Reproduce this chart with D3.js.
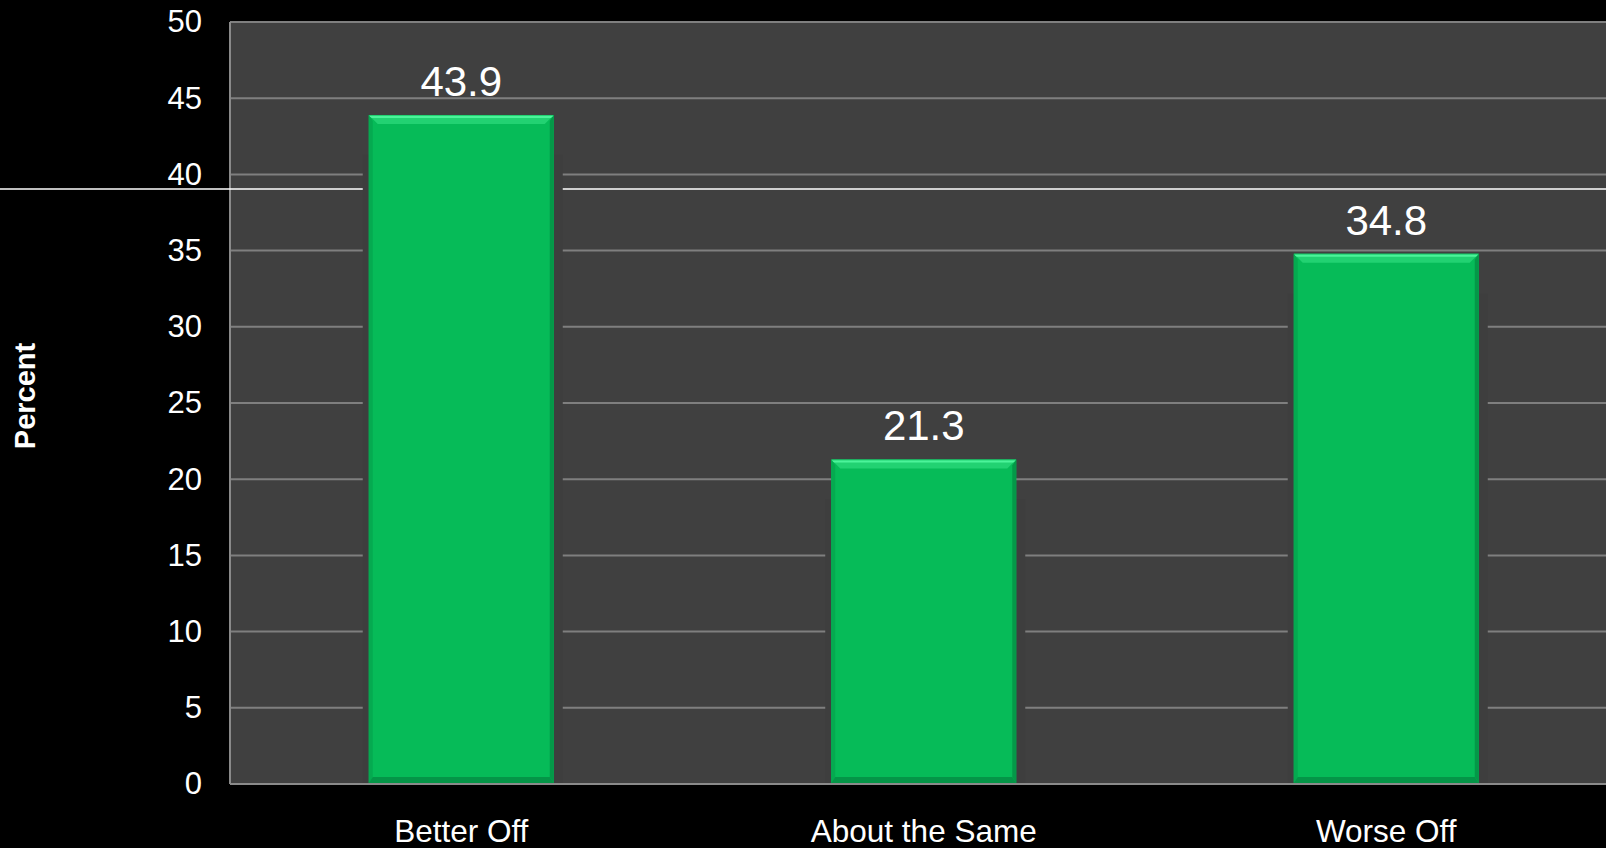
<!DOCTYPE html>
<html>
<head>
<meta charset="utf-8">
<script src="https://cdn.jsdelivr.net/npm/d3@7"></script>
<style>
  html, body { margin: 0; padding: 0; background: #000; }
  svg { display: block; }
  text { font-family: "Liberation Sans", Arial, sans-serif; fill: #fff; }
</style>
</head>
<body>
<svg id="chart" width="1606" height="848"></svg>
<script>
const categories = ["Better Off", "About the Same", "Worse Off"];
const values = [43.9, 21.3, 34.8];
const yTicks = [0, 5, 10, 15, 20, 25, 30, 35, 40, 45, 50];
const yTitle = "Percent";

const W = 1606, H = 848;
const svg = d3.select("#chart");
svg.append("rect").attr("width", W).attr("height", H).attr("fill", "#000");

const plotLeft = 230, plotTop = 22, plotBottom = 784;
const x = d3.scaleBand().domain(categories).range([plotLeft, 1617.5]).paddingInner(0.6).paddingOuter(0.3);
const y = d3.scaleLinear().domain([0, 50]).range([plotBottom, plotTop]);

// plot background
svg.append("rect").attr("x", plotLeft).attr("y", plotTop)
  .attr("width", W - plotLeft).attr("height", plotBottom - plotTop).attr("fill", "#404040");

// gridlines
svg.append("g").selectAll("line").data(yTicks.filter(d => d > 0)).join("line")
  .attr("x1", plotLeft).attr("x2", W)
  .attr("y1", d => y(d)).attr("y2", d => y(d))
  .attr("stroke", "#7f7f7f").attr("stroke-width", 2);

// axis borders
svg.append("line").attr("x1", plotLeft).attr("x2", plotLeft).attr("y1", plotTop).attr("y2", plotBottom)
  .attr("stroke", "#8a8a8a").attr("stroke-width", 2);
svg.append("line").attr("x1", plotLeft).attr("x2", W).attr("y1", plotBottom).attr("y2", plotBottom)
  .attr("stroke", "#8a8a8a").attr("stroke-width", 2);

// decorative white line
svg.append("line").attr("x1", 0).attr("x2", W).attr("y1", 189).attr("y2", 189)
  .attr("stroke", "#fff").attr("stroke-width", 1.5);

// bar shadows (hide grid near bars)
svg.append("g").selectAll("rect").data(values).join("rect")
  .attr("x", (d, i) => x(categories[i]) - 6)
  .attr("y", d => y(d) + 40)
  .attr("width", x.bandwidth() + 15)
  .attr("height", d => plotBottom - 1 - y(d) - 40)
  .attr("fill", "#3e3e3e");

// bars with bevel
const bw = x.bandwidth();
const bars = svg.append("g").selectAll("g").data(values).join("g");
bars.each(function(d, i) {
  const g = d3.select(this);
  const x0 = x(categories[i]), x1 = x0 + bw;
  const t = y(d), b = plotBottom - 1;
  g.append("rect").attr("x", x0).attr("y", t).attr("width", bw).attr("height", b - t).attr("fill", "#06bb58");
  const poly = (pts, fill) => g.append("polygon").attr("points", pts.map(p => p.join(",")).join(" ")).attr("fill", fill);
  poly([[x0, t], [x1, t], [x1 - 9, t + 9], [x0 + 9, t + 9]], "#22d272");
  poly([[x0, t + 1], [x1, t + 1], [x1 - 3, t + 3], [x0 + 3, t + 3]], "#4cf39a");
  poly([[x0, t], [x0 + 4, t + 6], [x0 + 4, b - 6], [x0, b]], "#05aa50");
  poly([[x1, t], [x1 - 4, t + 6], [x1 - 4, b - 6], [x1, b]], "#049848");
  poly([[x0, b], [x1, b], [x1 - 4, b - 6], [x0 + 4, b - 6]], "#049547");
});

// data labels
svg.append("g").selectAll("text").data(values).join("text")
  .attr("x", (d, i) => x(categories[i]) + bw / 2)
  .attr("y", d => y(d) - 19)
  .attr("text-anchor", "middle")
  .attr("font-size", 42)
  .text(d => d.toFixed(1));

// y axis labels
const yAxis = d3.axisLeft(y).tickValues(yTicks).tickSize(0).tickPadding(28);
const ya = svg.append("g").attr("transform", `translate(${plotLeft},0)`).call(yAxis);
ya.select(".domain").remove();
ya.selectAll("text").attr("font-size", 31).attr("fill", "#fff")
  .attr("font-family", "'Liberation Sans', Arial, sans-serif");

// category labels
svg.append("g").selectAll("text").data(categories).join("text")
  .attr("x", d => x(d) + bw / 2)
  .attr("y", 842)
  .attr("text-anchor", "middle")
  .attr("font-size", 31.5)
  .text(d => d);

// y title
svg.append("text")
  .attr("transform", "translate(35,396) rotate(-90)")
  .attr("text-anchor", "middle")
  .attr("font-size", 29)
  .attr("font-weight", "bold")
  .text(yTitle);
</script>
</body>
</html>
